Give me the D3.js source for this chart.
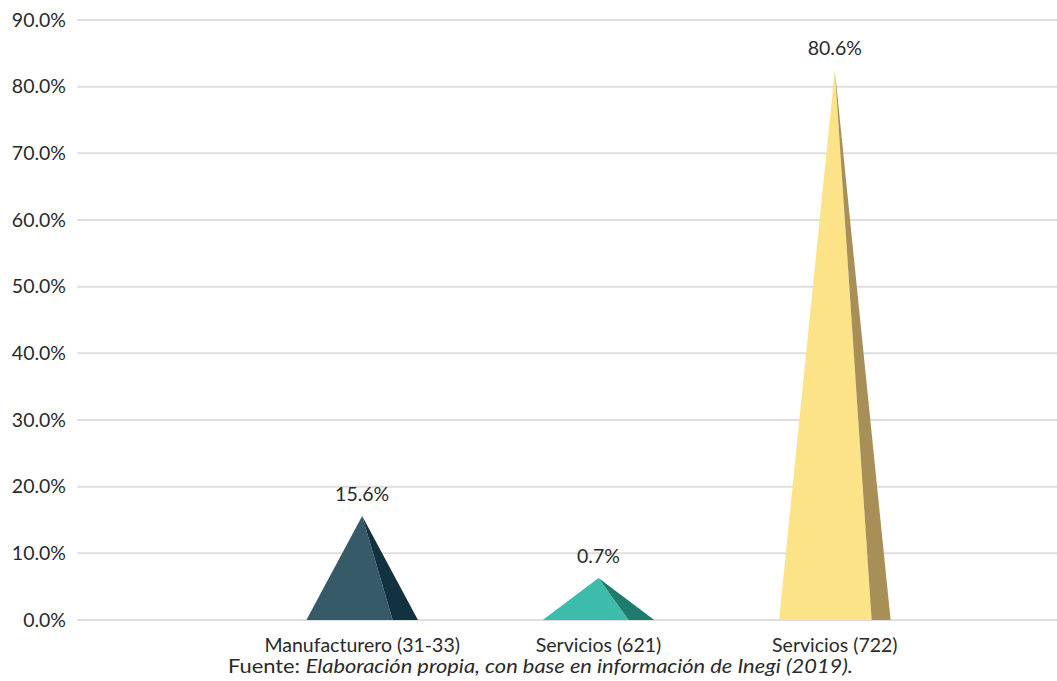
<!DOCTYPE html>
<html><head><meta charset="utf-8">
<script src="https://cdn.jsdelivr.net/npm/d3@7"></script>
<style>body{margin:0;background:#fff}svg{display:block}</style>
</head><body>
<script>
const categories = ["Manufacturero (31-33)", "Servicios (621)", "Servicios (722)"];
const labelValues = [15.6, 0.7, 80.6];          // printed data labels (%)
const drawnHeights = [15.6, 6.3, 82.5];         // apex height of each pyramid as drawn (%)
const yTicks = [0, 10, 20, 30, 40, 50, 60, 70, 80, 90];
const sourcePrefix = "Fuente: ";
const sourceText = "Elaboración propia, con base en información de Inegi (2019).";

// styles
const frontColors = ["#375a68", "#3dbcab", "#fde387"];
const sideColors = ["#13323f", "#1f7b6d", "#a88f57"];
const sideSplit = [0.773, 0.77, 0.83];

const W = 1057, H = 681;
const svg = d3.select("body").append("svg").attr("width", W).attr("height", H);
const font = "Lato, sans-serif";
const fs = 19.5;
const textColor = "#2a2a2a";

const y = d3.scaleLinear().domain([0, 90]).range([620, 20]);
const x = d3.scaleBand().domain(categories).range([244, 953]).padding(0);

// gridlines
svg.append("g").selectAll("line").data(yTicks).join("line")
  .attr("x1", 77).attr("x2", W)
  .attr("y1", d => y(d)).attr("y2", d => y(d))
  .attr("stroke", "#dedede").attr("stroke-width", 2);

// y axis labels
const yAxis = d3.axisLeft(y).tickValues(yTicks).tickFormat(d => d.toFixed(1) + "%").tickSize(0).tickPadding(0);
const ga = svg.append("g").attr("transform", "translate(66,0)").call(yAxis);
ga.select(".domain").remove();
ga.selectAll("text").attr("font-family", font).attr("font-size", fs).attr("fill", textColor);

// pyramids
const halfW = x.bandwidth() * 0.236;
const data = categories.map((c, i) => ({c, i, h: drawnHeights[i], v: labelValues[i]}));
const g = svg.append("g");
data.forEach(d => {
  const cx = x(d.c) + x.bandwidth() / 2;
  const left = cx - halfW, right = cx + halfW;
  const split = left + 2 * halfW * sideSplit[d.i];
  const top = y(d.h), base = y(0);
  g.append("path").attr("d", `M${left},${base}L${cx},${top}L${split},${base}Z`).attr("fill", frontColors[d.i]);
  g.append("path").attr("d", `M${split},${base}L${cx},${top}L${right},${base}Z`).attr("fill", sideColors[d.i]);
  g.append("text").attr("x", cx).attr("y", top - 15.5).attr("text-anchor", "middle")
    .attr("font-family", font).attr("font-size", fs).attr("fill", textColor)
    .text(d.v.toFixed(1) + "%");
});

// category labels
svg.append("g").selectAll("text").data(categories).join("text")
  .attr("x", d => x(d) + x.bandwidth() / 2).attr("y", 652)
  .attr("text-anchor", "middle").attr("font-family", font).attr("font-size", fs).attr("fill", textColor)
  .text(d => d);

// source
const src = svg.append("text").attr("x", 228).attr("y", 673)
  .attr("font-family", font).attr("font-size", fs).attr("fill", textColor)
  .attr("textLength", 625).attr("lengthAdjust", "spacingAndGlyphs");
src.append("tspan").text(sourcePrefix);
src.append("tspan").attr("font-style", "italic").text(sourceText);
</script>
</body></html>
